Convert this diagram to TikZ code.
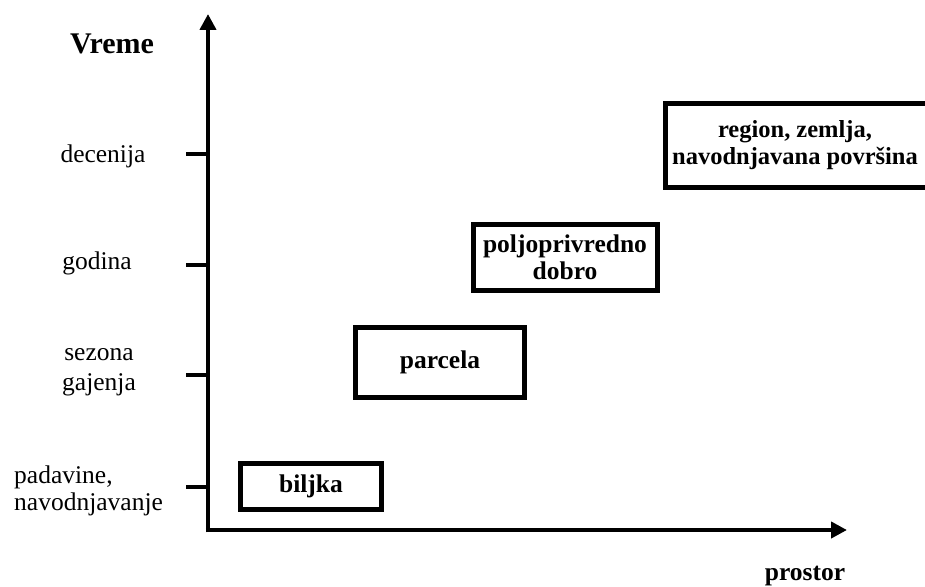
\documentclass[tikz,border=0pt]{standalone}
\usepackage{fontspec}
\setmainfont{Liberation Serif}
\usetikzlibrary{arrows.meta}
\tikzset{
  lbl/.style={font=\fontsize{25.5}{30}\selectfont, inner sep=0pt, align=center},
  blbl/.style={font=\fontsize{25.5}{27}\selectfont\bfseries, inner sep=0pt, align=center},
  axis/.style={line width=4.5pt, -{Triangle[length=16pt,width=16pt]}},
  tick/.style={line width=4.5pt},
  scalebox/.style={draw, line width=5pt, rectangle, inner sep=0pt, font=\fontsize{25.5}{27}\selectfont\bfseries, align=center}
}
\begin{document}
\begin{tikzpicture}[x=1pt,y=-1pt]
\useasboundingbox (0,0) rectangle (925,586);
\clip (0,0) rectangle (925,586);
% axes
\coordinate (O) at (208,530);
\coordinate (ytop) at (208,14);
\coordinate (xend) at (847,530);
\draw[axis] (208,532.25) -- (ytop);
\draw[axis] (205.75,530) -- (xend);
% ticks
\coordinate (t1) at (208,154);
\coordinate (t2) at (208,265);
\coordinate (t3) at (208,375);
\coordinate (t4) at (208,487);
\foreach \t in {t1,t2,t3,t4} \draw[tick] (\t) -- ++(-22,0);
% labels
\node[blbl, anchor=base, font=\fontsize{30}{30}\selectfont\bfseries] (vreme) at (112,53) {Vreme};
\node[lbl, anchor=base] (dec) at (103,162) {decenija};
\node[lbl, anchor=base] (god) at (97,269) {godina};
\node[lbl, anchor=base] (sez) at (99,360) {sezona};
\node[lbl, anchor=base] (gaj) at (99,390) {gajenja};
\node[lbl, anchor=base west] (pad) at (14,483) {padavine,};
\node[lbl, anchor=base west] (nav) at (14,510) {navodnjavanje};
\node[blbl, anchor=base] (prostor) at (805,580) {prostor};
% boxes
\node[scalebox, minimum width=141pt, minimum height=46pt] (biljka) at (311,486) {biljka};
\node[scalebox, minimum width=169pt, minimum height=70pt] (parcela) at (440,362.5) {parcela};
\node[scalebox, minimum width=184pt, minimum height=66pt] (dobro) at (565,257) {poljoprivredno\\dobro};
\node[scalebox, minimum width=268pt, minimum height=84pt] (region) at (799,145) {};
\node[blbl, font=\fontsize{24.5}{27}\selectfont\bfseries] (regiontext) at (795,145) {region, zemlja,\\navodnjavana površina};
\end{tikzpicture}
\end{document}
